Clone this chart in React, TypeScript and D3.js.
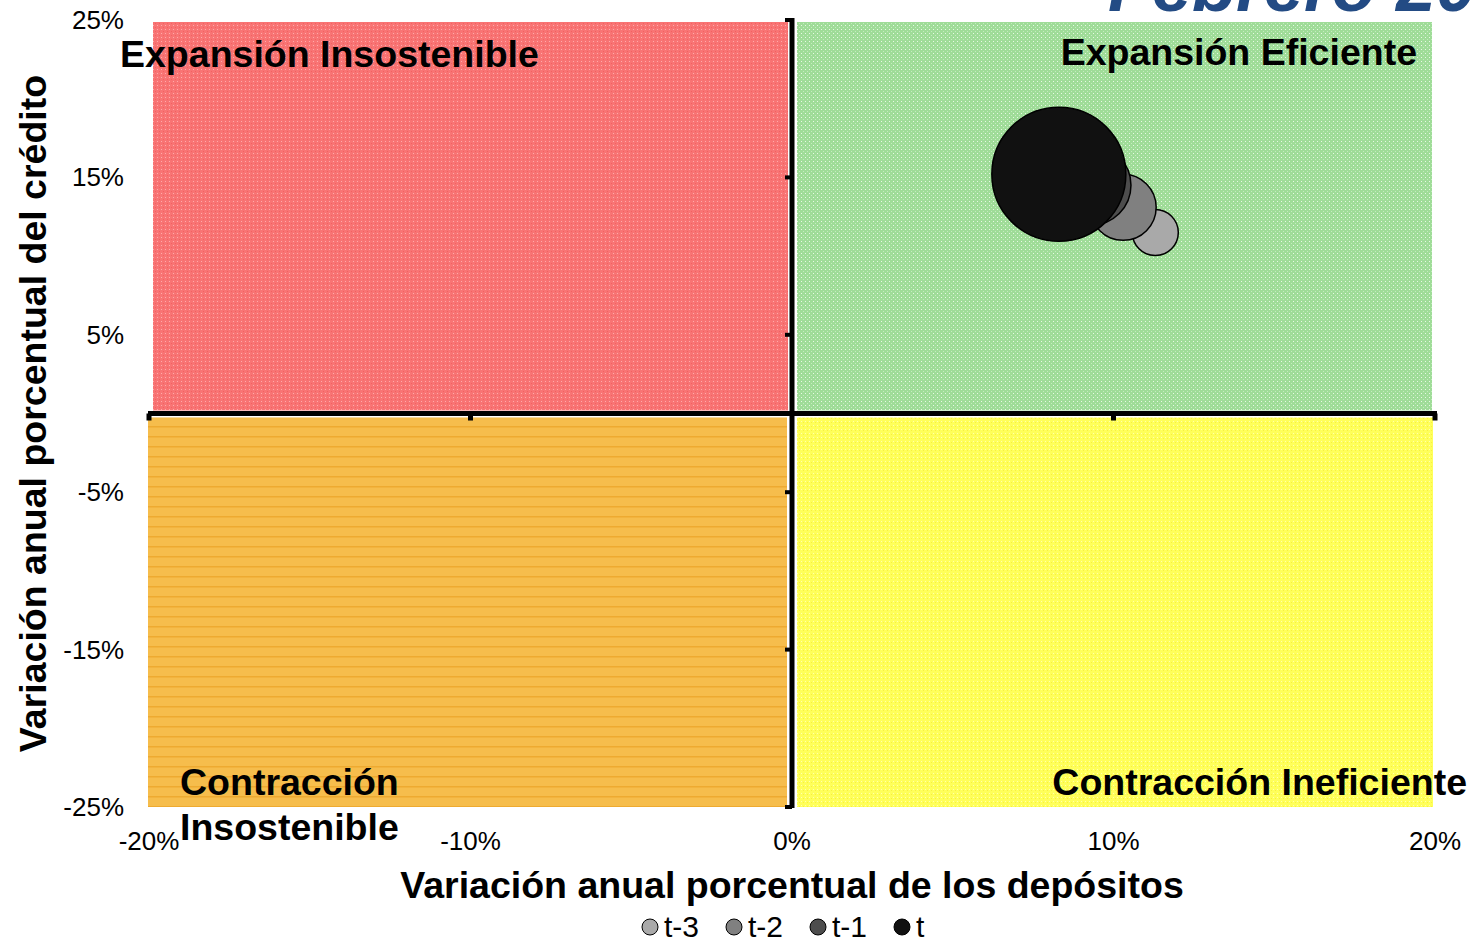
import React from "react";
import * as d3 from "d3";

// quadrant chart: crédito vs depósitos
const periods = ["t-3", "t-2", "t-1", "t"];
const depositGrowth = [11.3, 10.3, 9.3, 8.3];
const creditGrowth = [11.5, 13.1, 14.5, 15.2];
const bubbleSize = [11.8, 24.3, 35.6, 100];
const periodColors = ["#a9a9a9", "#808080", "#4d4d4d", "#111111"];

const xTicks = [-20, -10, 0, 10, 20];
const yTicks = [25, 15, 5, -5, -15, -25];

const W = 1472;
const H = 942;
const FONT = "'Liberation Sans', Arial, sans-serif";

const x = d3.scaleLinear().domain([-20, 20]).range([149, 1435]);
const y = d3.scaleLinear().domain([-25, 25]).range([807, 20]);
const r = d3.scaleSqrt().domain([0, 100]).range([0, 67]);

const pct = (v: number) => `${v}%`;

const App = () => {
  const bubbles = periods.map((p, i) => ({
    p,
    cx: x(depositGrowth[i]),
    cy: y(creditGrowth[i]),
    rad: r(bubbleSize[i]),
    fill: periodColors[i],
  }));

  const x0 = x(0);
  const y0 = y(0);

  return (
    <svg
      width={W}
      height={H}
      style={{ position: "absolute", left: 0, top: 0, background: "#fff" }}
      fontFamily={FONT}
    >
      <defs>
        <pattern id="pRed" width="4" height="4" patternUnits="userSpaceOnUse">
          <rect width="4" height="4" fill="#f87474" />
          <rect x="1" y="1" width="1" height="1" fill="#ffaaaa" />
          <rect x="3" y="3" width="1" height="1" fill="#f46060" />
        </pattern>
        <pattern id="pGreen" width="4" height="4" patternUnits="userSpaceOnUse">
          <rect width="4" height="4" fill="#9fdc98" />
          <rect x="1" y="1" width="1" height="1" fill="#e8f8e4" />
          <rect x="3" y="3" width="1" height="1" fill="#c4ecbe" />
        </pattern>
        <pattern id="pOrange" width="10" height="10" patternUnits="userSpaceOnUse">
          <rect width="10" height="10" fill="#f6bd4c" />
          <rect y="6" width="10" height="1.5" fill="#eeaa30" />
        </pattern>
        <pattern id="pYellow" width="4" height="4" patternUnits="userSpaceOnUse">
          <rect width="4" height="4" fill="#ffff5a" />
          <rect x="1" y="1" width="1" height="1" fill="#ffffb0" />
          <rect x="3" y="2" width="1" height="1" fill="#f6f040" />
        </pattern>
      </defs>

      {/* partially visible title */}
      <text
        x={1108}
        y={11}
        fontSize={72}
        fontWeight="bold"
        fontStyle="italic"
        fill="#234b84"
      >
        Febrero 2012
      </text>

      {/* quadrants */}
      <rect x={x(-20) + 4} y={y(25) + 2} width={x0 - 4 - x(-20) - 4} height={y0 - 3 - y(25) - 2} fill="url(#pRed)" />
      <rect x={x0 + 5} y={y(25) + 2} width={x(20) - 3 - x0 - 5} height={y0 - 3 - y(25) - 2} fill="url(#pGreen)" />
      <rect x={x(-20) - 1} y={y0 + 4} width={x0 - 5 - x(-20) + 1} height={y(-25) - y0 - 4} fill="url(#pOrange)" />
      <rect x={x0 + 5} y={y0 + 4} width={x(20) - 2 - x0 - 5} height={y(-25) - y0 - 4} fill="url(#pYellow)" />

      {/* axes */}
      <line x1={x(-20) - 1} x2={x(20) + 2} y1={y0} y2={y0} stroke="#000" strokeWidth={5} />
      <line x1={x0} x2={x0} y1={y(25) - 2} y2={y(-25) + 1} stroke="#000" strokeWidth={5} />
      {xTicks
        .filter((t) => t !== 0)
        .map((t) => (
          <rect key={`xt${t}`} x={x(t) - 2.5} y={y0} width={5} height={7} fill="#000" />
        ))}
      {yTicks.map((t) => (
        <rect key={`yt${t}`} x={x0 - 7} y={y(t) - 2} width={7} height={4} fill="#000" />
      ))}

      {/* tick labels */}
      {yTicks.map((t) => (
        <text key={`yl${t}`} x={124} y={y(t) + 9} fontSize={26} textAnchor="end" fill="#000">
          {pct(t)}
        </text>
      ))}
      {xTicks.map((t) => (
        <text key={`xl${t}`} x={x(t)} y={850} fontSize={26} textAnchor="middle" fill="#000">
          {pct(t)}
        </text>
      ))}

      {/* quadrant labels */}
      <g fontSize={37.5} fontWeight="bold" fill="#000">
        <text x={120} y={67}>Expansión Insostenible</text>
        <text x={1417} y={65} textAnchor="end">Expansión Eficiente</text>
        <text x={180} y={795}>Contracción</text>
        <text x={180} y={840}>Insostenible</text>
        <text x={1467} y={795} textAnchor="end">Contracción Ineficiente</text>
      </g>

      {/* bubbles */}
      {bubbles.map((b) => (
        <circle key={b.p} cx={b.cx} cy={b.cy} r={b.rad} fill={b.fill} stroke="#000" strokeWidth={1.5} />
      ))}

      {/* axis titles */}
      <text x={x0} y={898} fontSize={37.5} fontWeight="bold" textAnchor="middle" fill="#000">
        Variación anual porcentual de los depósitos
      </text>
      <text
        transform={`translate(46, ${y0}) rotate(-90)`}
        fontSize={37.5}
        fontWeight="bold"
        textAnchor="middle"
        fill="#000"
      >
        Variación anual porcentual del crédito
      </text>

      {/* legend */}
      {periods.map((p, i) => {
        const lx = 650 + i * 84;
        return (
          <g key={`lg${p}`}>
            <circle cx={lx} cy={927} r={8} fill={periodColors[i]} stroke="#000" strokeWidth={1} />
            <text x={lx + 14} y={937} fontSize={30} fill="#000">
              {p}
            </text>
          </g>
        );
      })}
    </svg>
  );
};

export default App;
